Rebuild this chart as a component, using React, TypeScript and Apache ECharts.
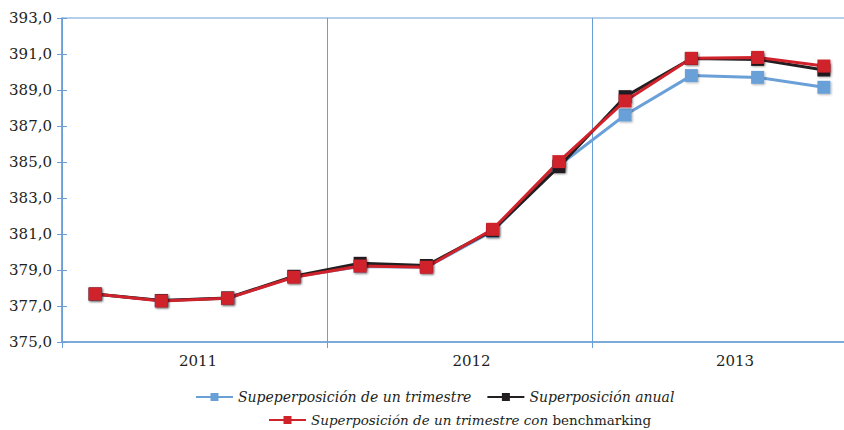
import React, { useEffect, useRef } from "react";
import * as echarts from "echarts";

const quarters = [
  "2011-T1", "2011-T2", "2011-T3", "2011-T4",
  "2012-T1", "2012-T2", "2012-T3", "2012-T4",
  "2013-T1", "2013-T2", "2013-T3", "2013-T4",
];
const years = ["2011", "2012", "2013"];
const yTicks = { min: 375, max: 393, interval: 2 };

const nameBlue = "Supeperposición de un trimestre";
const nameBlack = "Superposición anual";
const nameRed = "Superposición de un trimestre con benchmarking";

const blueValues = [377.65, 377.3, 377.43, 378.62, 379.2, 379.15, 381.15, 384.8, 387.61, 389.8, 389.7, 389.15];
const blackValues = [377.67, 377.3, 377.45, 378.65, 379.37, 379.25, 381.2, 384.74, 388.63, 390.75, 390.7, 390.11];
const redValues = [377.67, 377.28, 377.43, 378.6, 379.22, 379.15, 381.26, 385.02, 388.39, 390.76, 390.81, 390.33];

const AXIS_BLUE = "#6a9fd6";
const SERIF = "DejaVu Serif";
const TXT = "#231f20";
const FS = 15;
const LFS = 14;
const LFS2 = 13.5;

export default function App() {
  const ref = useRef<HTMLDivElement>(null);
  useEffect(() => {
    if (!ref.current) return;
    const chart = echarts.init(ref.current, undefined, { renderer: "svg" });
    const mkSeries = (name: string, data: number[], color: string) => ({
      name,
      type: "line",
      data,
      symbol: "rect",
      symbolSize: 13,
      xAxisIndex: 0,
      yAxisIndex: 0,
      lineStyle: { color, width: 3 },
      itemStyle: {
        color,
        shadowColor: "rgba(0,0,0,0.3)",
        shadowBlur: 2,
        shadowOffsetX: 1,
        shadowOffsetY: 1,
      },
      emphasis: { disabled: true },
    });
    const option: any = {
      animation: false,
      textStyle: { fontFamily: SERIF },
      grid: {
        left: 62,
        top: 18,
        right: -13,
        bottom: 88,
        show: true,
        borderColor: AXIS_BLUE,
        borderWidth: 1,
        outerBoundsMode: "none",
        containLabel: false,
      },
      legend: [
        {
          data: [nameBlue, nameBlack],
          left: 195,
          top: 390,
          padding: 0,
          itemWidth: 37,
          itemHeight: 10,
          itemGap: 15,
          textStyle: { fontFamily: SERIF, fontSize: LFS, fontStyle: "italic", color: TXT },
        },
        {
          data: [nameRed],
          left: 268,
          top: 413,
          padding: 0,
          itemWidth: 37,
          itemHeight: 10,
          formatter: () => "{i|Superposición de un trimestre con} {n|benchmarking}",
          textStyle: {
            fontFamily: SERIF,
            fontSize: LFS2,
            color: TXT,
            rich: {
              i: { fontFamily: SERIF, fontSize: LFS2, fontStyle: "italic", color: TXT },
              n: { fontFamily: SERIF, fontSize: LFS2, fontStyle: "normal", color: TXT },
            },
          },
        },
      ],
      xAxis: [
        {
          type: "category",
          data: quarters,
          boundaryGap: true,
          position: "bottom",
          axisLine: { show: true, lineStyle: { color: AXIS_BLUE, width: 1.5 } },
          axisTick: { show: false },
          axisLabel: { show: false },
          splitLine: { show: false },
        },
        {
          type: "category",
          data: years,
          boundaryGap: true,
          position: "bottom",
          axisLine: { show: false },
          axisTick: { show: true, length: 6, lineStyle: { color: AXIS_BLUE, width: 1 } },
          splitLine: { show: true, interval: 0, lineStyle: { color: AXIS_BLUE, width: 1 } },
          axisLabel: {
            margin: 11,
            fontFamily: SERIF,
            fontSize: FS,
            color: TXT,
            formatter: (v: string, i: number) => `{y${i}|${v}}`,
            rich: {
              y0: { fontFamily: SERIF, fontSize: FS, color: TXT, padding: [0, 0, 0, 7] },
              y1: { fontFamily: SERIF, fontSize: FS, color: TXT, padding: [0, 0, 0, 24] },
              y2: { fontFamily: SERIF, fontSize: FS, color: TXT, padding: [0, 0, 0, 21] },
            },
          },
        },
      ],
      yAxis: [
        {
          type: "value",
          min: yTicks.min,
          max: yTicks.max,
          interval: yTicks.interval,
          position: "left",
          axisLine: { show: true, lineStyle: { color: AXIS_BLUE, width: 1.5 } },
          axisTick: { show: true, length: 5, lineStyle: { color: AXIS_BLUE, width: 1 } },
          splitLine: { show: false },
          axisLabel: {
            margin: 10,
            fontFamily: SERIF,
            fontSize: FS,
            color: TXT,
            formatter: (v: number) => v.toFixed(1).replace(".", ","),
          },
        },
        {
          type: "value",
          min: yTicks.min,
          max: yTicks.max,
          interval: yTicks.interval,
          position: "left",
          axisLine: { show: false },
          axisTick: { show: true, inside: true, length: 5, lineStyle: { color: AXIS_BLUE, width: 1 } },
          splitLine: { show: false },
          axisLabel: { show: false },
        },
      ],
      series: [
        mkSeries(nameBlue, blueValues, "#6aa0d8"),
        mkSeries(nameBlack, blackValues, "#231f20"),
        mkSeries(nameRed, redValues, "#d0222a"),
      ],
    };
    chart.setOption(option);
    return () => chart.dispose();
  }, []);
  return (
    <div
      ref={ref}
      style={{ position: "absolute", left: 0, top: 0, width: 844, height: 430, overflow: "hidden" }}
    />
  );
}
